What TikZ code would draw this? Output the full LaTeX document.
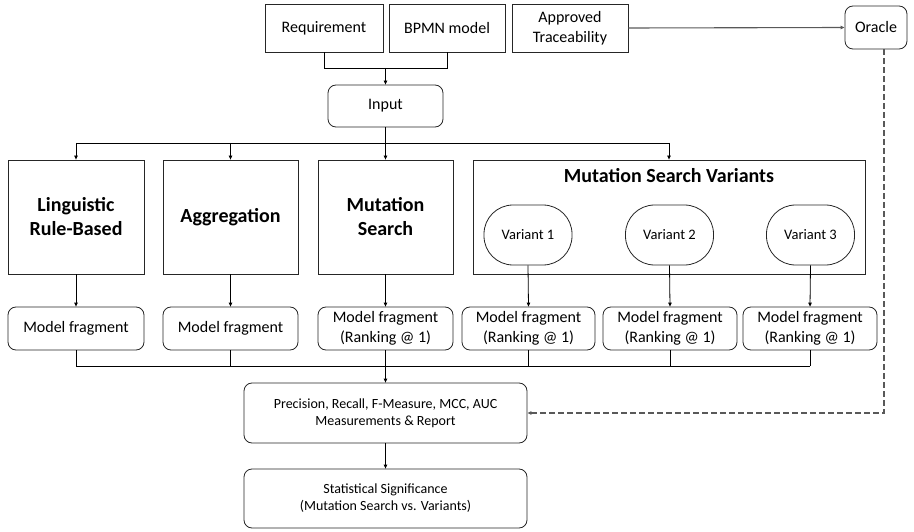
\documentclass[tikz,border=0pt]{standalone}
\usepackage{fontspec}
\setmainfont{Carlito}
\usetikzlibrary{arrows.meta}
\begin{document}
\begin{tikzpicture}[x=1pt,y=-1pt,
  box/.style={draw=black!85,line width=0.8pt,inner sep=0pt,align=center,font=\fontsize{16}{19.5}\selectfont},
  rbox/.style={box,rounded corners=8pt},
  bigbox/.style={box,minimum height=114pt,font=\bfseries\fontsize{20}{24}\selectfont},
  frag/.style={rbox,minimum height=43pt},
  variant/.style={box,rounded corners=29pt,minimum width=88pt,minimum height=60pt,font=\fontsize{14.5}{17}\selectfont},
  small/.style={rbox,font=\fontsize{14}{17}\selectfont,minimum width=283pt},
  conn/.style={draw=black,line width=0.8pt},
  arr/.style={conn,-{Triangle[length=4pt,width=3.5pt]}},
  grayline/.style={draw=black!65,line width=1.1pt}
]
\useasboundingbox (0,0) rectangle (914,532);
% top row
\node[box,minimum width=118pt,minimum height=48pt] (req) at (324,28) {Requirement};
\node[box,minimum width=116pt,minimum height=48pt] (bpmn) at (447,28) {BPMN model};
\node[box,minimum width=116pt,minimum height=48pt] (appr) at (570,28) {Approved\\Traceability};
\node[rbox,minimum width=62pt,minimum height=43pt] (oracle) at (876,27.5) {Oracle};
\node[rbox,minimum width=115pt,minimum height=42pt] (input) at (385.5,106) {Input};
% technique boxes
\node[bigbox,minimum width=136pt] (ling) at (76,217) {Linguistic\\Rule-Based};
\node[bigbox,minimum width=135pt] (agg) at (230.5,217) {Aggregation};
\node[bigbox,minimum width=135pt] (ms) at (385.5,217) {Mutation\\Search};
\node[box,minimum width=392pt,minimum height=114pt] (msv) at (669,217) {};
\node[font=\bfseries\fontsize{20}{24}\selectfont,inner sep=0pt] (msvt) at (669,176) {Mutation Search Variants};
\node[variant] (v1) at (528,235) {Variant 1};
\node[variant] (v2) at (669.5,235) {Variant 2};
\node[variant] (v3) at (810.5,235) {Variant 3};
% fragments
\node[frag,minimum width=136pt] (f1) at (76,328.5) {Model fragment};
\node[frag,minimum width=135pt] (f2) at (230.5,328.5) {Model fragment};
\node[frag,minimum width=135pt] (f3) at (385.5,328.5) {Model fragment\\(Ranking @ 1)};
\node[frag,minimum width=133pt] (f4) at (528.5,328.5) {Model fragment\\(Ranking @ 1)};
\node[frag,minimum width=134pt] (f5) at (670,328.5) {Model fragment\\(Ranking @ 1)};
\node[frag,minimum width=134pt] (f6) at (810,328.5) {Model fragment\\(Ranking @ 1)};
% bottom
\node[small,minimum height=60pt] (meas) at (385.5,413) {Precision, Recall, F-Measure, MCC, AUC\\Measurements \& Report};
\node[small,minimum height=59pt] (stat) at (385.5,498.5) {Statistical Significance\\(Mutation Search vs. Variants)};
% connectors top
\coordinate (jt) at (0,68);
\draw[conn] (req.south) -- (req.south |- jt) -- (bpmn.south |- jt) -- (bpmn.south);
\draw[arr] (input.north |- jt) -- (input.north);
\draw[grayline,-{Triangle[length=4pt,width=3.5pt]}] (appr.east) -- (oracle.west);
% branch
\coordinate (br) at (0,143);
\draw[conn] (input.south) -- (input.south |- br);
\draw[conn] (ling.north |- br) -- (msv.north |- br);
\foreach \n in {ling,agg,ms,msv} \draw[arr] (\n.north |- br) -- (\n.north);
% to fragments
\draw[arr] (ling.south) -- (f1.north);
\draw[arr] (agg.south) -- (f2.north);
\draw[arr] (ms.south) -- (f3.north);
\draw[arr] (v1.south) -- (f4.north);
\draw[arr] (v2.south) -- (f5.north);
\draw[arr] (v3.south) -- (f6.north);
% join
\coordinate (bj) at (0,366);
\foreach \n in {f1,f2,f3,f4,f5,f6} \draw[conn] (\n.south) -- (\n.south |- bj);
\draw[conn] (f1.south |- bj) -- (f6.south |- bj);
\draw[arr] (meas.north |- bj) -- (meas.north);
\draw[arr] (meas.south) -- (stat.north);
% oracle dashed
\coordinate (od) at ([xshift=8pt]oracle.south);
\draw[grayline,dash pattern=on 6pt off 3pt,-{Triangle[length=4pt,width=3.5pt]}] (od) |- (meas.east);
\end{tikzpicture}
\end{document}
